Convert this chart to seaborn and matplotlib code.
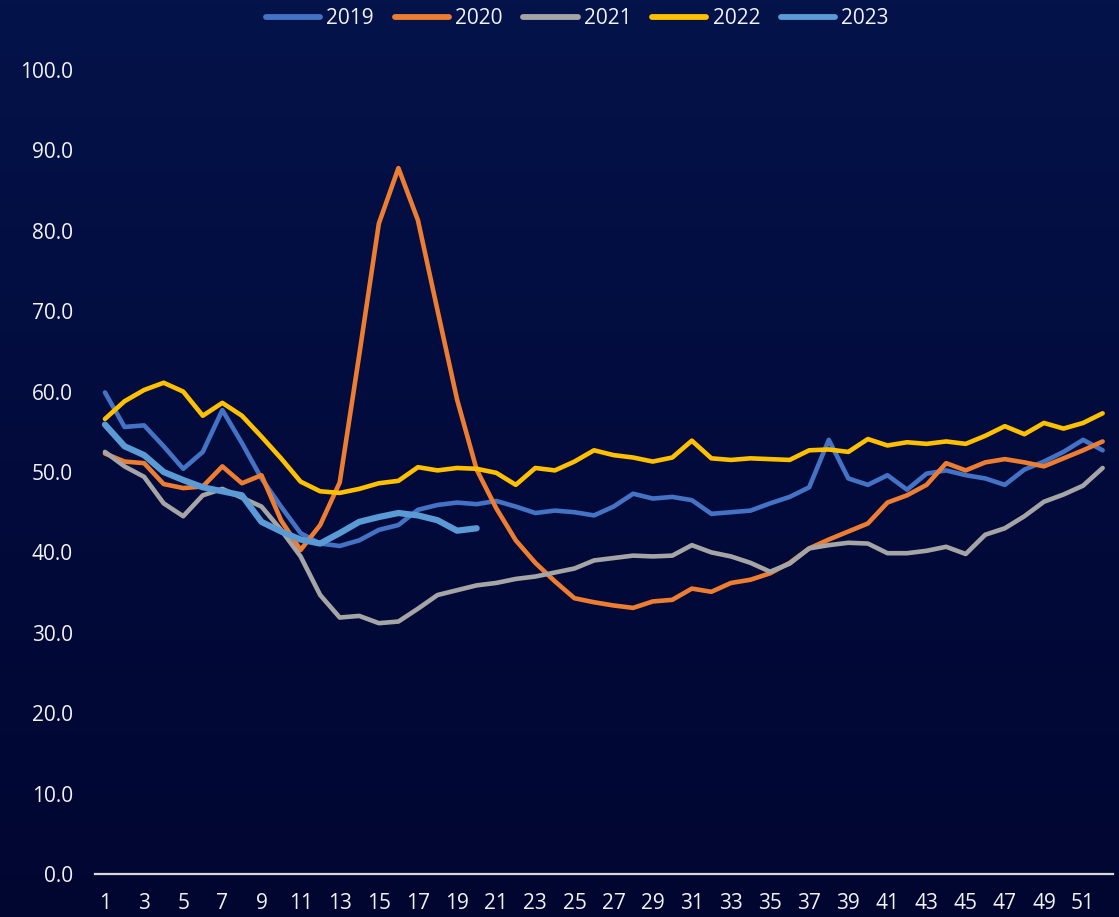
import numpy as np
import pandas as pd
import matplotlib
matplotlib.use("Agg")
import matplotlib.pyplot as plt
import seaborn as sns
from matplotlib.colors import LinearSegmentedColormap

# ---- data ----
weeks = list(range(1, 53))
years = ["2019", "2020", "2021", "2022", "2023"]

v2019 = [59.9, 55.6, 55.8, 53.2, 50.4, 52.5, 57.7, 53.6, 49.2, 45.7,
         42.4, 41.1, 40.8, 41.5, 42.8, 43.4, 45.3, 45.9, 46.2, 46.0,
         46.4, 45.7, 44.9, 45.2, 45.0, 44.6, 45.7, 47.3, 46.7, 46.9,
         46.5, 44.8, 45.0, 45.2, 46.1, 46.9, 48.1, 54.0, 49.2, 48.4,
         49.6, 47.8, 49.8, 50.2, 49.6, 49.2, 48.4, 50.3, 51.3, 52.5,
         54.0, 52.7]
v2020 = [52.3, 51.3, 51.1, 48.5, 48.0, 48.2, 50.7, 48.6, 49.6, 44.0,
         40.3, 43.4, 48.7, 64.6, 80.9, 87.8, 81.3, 70.1, 59.0, 50.3,
         45.5, 41.5, 38.7, 36.4, 34.3, 33.8, 33.4, 33.1, 33.9, 34.1,
         35.5, 35.1, 36.2, 36.6, 37.4, 38.7, 40.5, 41.6, 42.6, 43.6,
         46.2, 47.1, 48.4, 51.1, 50.2, 51.2, 51.6, 51.2, 50.7, 51.7,
         52.7, 53.8]
v2021 = [52.5, 50.7, 49.4, 46.1, 44.5, 47.1, 47.9, 46.8, 45.7, 42.8,
         39.5, 34.7, 31.9, 32.1, 31.2, 31.4, 33.0, 34.7, 35.3, 35.9,
         36.2, 36.7, 37.0, 37.5, 38.0, 39.0, 39.3, 39.6, 39.5, 39.6,
         40.9, 40.0, 39.5, 38.7, 37.6, 38.6, 40.5, 40.9, 41.2, 41.1,
         39.9, 39.9, 40.2, 40.7, 39.8, 42.2, 43.0, 44.5, 46.3, 47.2,
         48.3, 50.5]
v2022 = [56.6, 58.8, 60.2, 61.1, 60.0, 57.0, 58.6, 57.0, 54.4, 51.7,
         48.8, 47.6, 47.4, 47.9, 48.6, 48.9, 50.6, 50.2, 50.5, 50.4,
         49.9, 48.4, 50.5, 50.2, 51.3, 52.7, 52.1, 51.8, 51.3, 51.8,
         53.9, 51.7, 51.5, 51.7, 51.6, 51.5, 52.7, 52.8, 52.5, 54.1,
         53.3, 53.7, 53.5, 53.8, 53.5, 54.5, 55.7, 54.7, 56.1, 55.4,
         56.1, 57.3]
v2023 = [55.9, 53.2, 52.1, 50.0, 49.0, 48.1, 47.6, 47.1, 43.8, 42.6,
         41.6, 41.1, 42.4, 43.8, 44.4, 44.9, 44.6, 44.0, 42.7, 43.0]

series = [v2019, v2020, v2021, v2022, v2023]
colors = ["#4472C4", "#ED7D31", "#A5A5A5", "#FFC000", "#5B9BD5"]
widths = [3.3, 3.3, 3.3, 3.3, 4.5]

ytick_vals = [0, 10, 20, 30, 40, 50, 60, 70, 80, 90, 100]
xtick_vals = list(range(1, 53, 2))

# ---- style ----
sns.set_theme(style="dark")
plt.rcParams["font.family"] = ["Open Sans", "DejaVu Sans"]

fig = plt.figure(figsize=(11.19, 9.17), dpi=100)
bg = "#020b3a"
fig.patch.set_facecolor(bg)

# subtle background gradient
bgax = fig.add_axes([0, 0, 1, 1], zorder=-10)
grad = np.linspace(0, 1, 256).reshape(-1, 1)
cmap = LinearSegmentedColormap.from_list("bg", ["#04134a", "#020b3c", "#010631"])
bgax.imshow(grad, aspect="auto", cmap=cmap, extent=[0, 1, 0, 1], origin="upper")
bgax.set_axis_off()

ax = fig.add_axes([95 / 1119, 43 / 917, (1113 - 95) / 1119, 804 / 917])
ax.set_facecolor("none")

for yr, vals, c, lw in zip(years, series, colors, widths):
    df = pd.DataFrame({"week": weeks[:len(vals)], "value": vals})
    sns.lineplot(data=df, x="week", y="value", ax=ax, color=c, linewidth=lw,
                 label=yr, solid_capstyle="round", solid_joinstyle="round")

ax.set_xlim(0.49, 52.53)
ax.set_ylim(0, 100)
ax.set_yticks(ytick_vals)
ax.set_yticklabels([f"{v:.1f}" for v in ytick_vals])
ax.set_xticks(xtick_vals)
ax.set_xticklabels([str(v) for v in xtick_vals])
ax.set_xlabel("")
ax.set_ylabel("")
ax.grid(False)
for s in ["top", "right", "left"]:
    ax.spines[s].set_visible(False)
ax.spines["bottom"].set_visible(True)
ax.spines["bottom"].set_color("#d9d9d9")
ax.spines["bottom"].set_linewidth(1.6)
ax.tick_params(axis="both", length=0, colors="#f2f2f2", labelsize=15)
ax.tick_params(axis="y", pad=16)
ax.tick_params(axis="x", pad=14)

ax.get_legend().remove()
handles, labels = ax.get_legend_handles_labels()
leg = fig.legend(handles, labels, loc="center", bbox_to_anchor=(0.516, 0.980),
                 ncol=5, frameon=False, fontsize=15, handlelength=2.6,
                 handletextpad=0.3, columnspacing=1.0, labelcolor="#f2f2f2")
for h in leg.legend_handles:
    h.set_linewidth(4.2)
    h.set_solid_capstyle("round")

fig.savefig("out.png", dpi=100, facecolor=fig.get_facecolor())
